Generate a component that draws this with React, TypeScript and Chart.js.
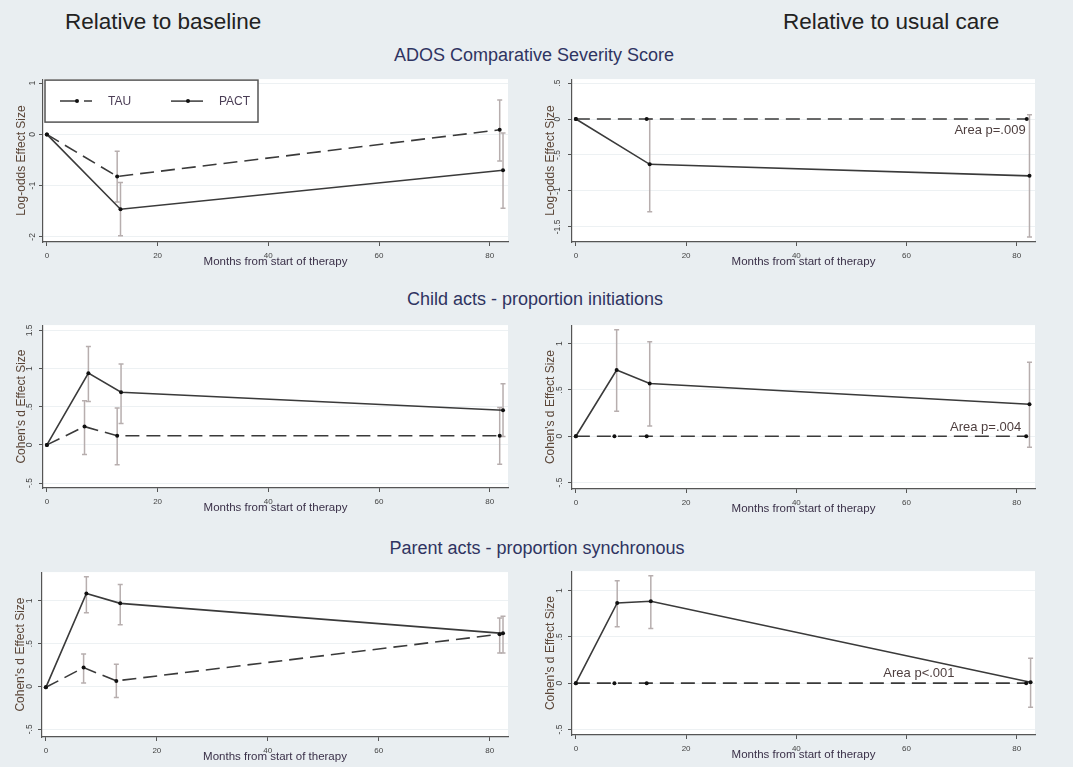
import React, { useEffect, useRef } from "react";
import { Chart, registerables } from "chart.js";
Chart.register(...registerables);

// ---------- data ----------
const xTicks = [0, 20, 40, 60, 80];
const xTitle = "Months from start of therapy";
const seriesNames = ["TAU", "PACT"];

// ADOS CSS – relative to baseline
const adosBaseTauX = [0, 12.7, 81.8];
const adosBaseTauY = [0, -0.82, 0.09];
const adosBaseTauLo = [null, -1.32, -0.52];
const adosBaseTauHi = [null, -0.33, 0.67];
const adosBasePactX = [0, 13.3, 82.4];
const adosBasePactY = [0, -1.46, -0.7];
const adosBasePactLo = [null, -1.98, -1.44];
const adosBasePactHi = [null, -0.94, 0.03];
const adosBaseYTicks = [-2, -1, 0, 1];

// ADOS CSS – relative to usual care
const adosCareTauX = [0, 12.85, 81.8];
const adosCareTauY = [0, 0, 0];
const adosCarePactX = [0, 13.4, 82.3];
const adosCarePactY = [0, -0.63, -0.79];
const adosCarePactLo = [null, -1.29, -1.64];
const adosCarePactHi = [null, 0, 0.06];
const adosCareYTicks = [-1.5, -1, -0.5, 0, 0.5];

// Child initiations – relative to baseline
const childBaseTauX = [0, 6.8, 12.7, 81.8];
const childBaseTauY = [0, 0.24, 0.12, 0.12];
const childBaseTauLo = [null, -0.125, -0.26, -0.255];
const childBaseTauHi = [null, 0.58, 0.485, 0.49];
const childBasePactX = [0, 7.5, 13.4, 82.4];
const childBasePactY = [0, 0.94, 0.69, 0.455];
const childBasePactLo = [null, 0.57, 0.28, 0.11];
const childBasePactHi = [null, 1.29, 1.06, 0.8];
const childBaseYTicks = [-0.5, 0, 0.5, 1, 1.5];

// Child initiations – relative to usual care
const childCareTauX = [0, 7.0, 12.85, 81.7];
const childCareTauY = [0, 0, 0, 0];
const childCarePactX = [0, 7.4, 13.4, 82.3];
const childCarePactY = [0, 0.715, 0.57, 0.346];
const childCarePactLo = [null, 0.27, 0.11, -0.12];
const childCarePactHi = [null, 1.15, 1.02, 0.8];
const childCareYTicks = [-0.5, 0, 0.5, 1];

// Parent synchrony – relative to baseline
const parentBaseTauX = [0, 6.8, 12.7, 81.8];
const parentBaseTauY = [-0.01, 0.22, 0.065, 0.61];
const parentBaseTauLo = [null, 0.04, -0.13, 0.39];
const parentBaseTauHi = [null, 0.38, 0.26, 0.8];
const parentBasePactX = [0, 7.3, 13.4, 82.4];
const parentBasePactY = [-0.01, 1.085, 0.97, 0.62];
const parentBasePactLo = [null, 0.86, 0.72, 0.39];
const parentBasePactHi = [null, 1.28, 1.19, 0.82];
const parentBaseYTicks = [-0.5, 0, 0.5, 1];

// Parent synchrony – relative to usual care
const parentCareTauX = [0, 7.0, 12.85, 81.7];
const parentCareTauY = [0, 0, 0, 0];
const parentCarePactX = [0, 7.5, 13.6, 82.5];
const parentCarePactY = [0, 0.866, 0.885, 0.01];
const parentCarePactLo = [null, 0.61, 0.59, -0.26];
const parentCarePactHi = [null, 1.105, 1.16, 0.27];
const parentCareYTicks = [-0.5, 0, 0.5, 1];

const columnTitles = ["Relative to baseline", "Relative to usual care"];
const rowTitles = [
  "ADOS Comparative Severity Score",
  "Child acts - proportion initiations",
  "Parent acts - proportion synchronous",
];
const notes = ["Area p=.009", "Area p=.004", "Area p<.001"];

// ---------- layout / styles ----------
const FONT = "'Liberation Sans', Arial, Helvetica, sans-serif";
const PAGE_BG = "#e9eef1";
const LINE = "#3a3a3a";
const AXIS = "#555555";
const ERR = "#b7aeae";

type Series = { x: number[]; y: number[]; lo?: (number | null)[]; hi?: (number | null)[]; dashed: boolean };
type PanelCfg = {
  rect: [number, number, number, number];
  yMin: number;
  yMax: number;
  yTicks: number[];
  yTitle: string;
  series: Series[];
  legend?: boolean;
  note?: { text: string; x: number; y: number };
};

const PANELS: PanelCfg[] = [
  {
    rect: [43, 77, 508, 242], yMin: -2.1, yMax: 1.08, yTicks: adosBaseYTicks, yTitle: "Log-odds Effect Size", legend: true,
    series: [
      { x: adosBaseTauX, y: adosBaseTauY, lo: adosBaseTauLo, hi: adosBaseTauHi, dashed: true },
      { x: adosBasePactX, y: adosBasePactY, lo: adosBasePactLo, hi: adosBasePactHi, dashed: false },
    ],
  },
  {
    rect: [572, 77, 1035, 242], yMin: -1.71, yMax: 0.555, yTicks: adosCareYTicks, yTitle: "Log-odds Effect Size",
    note: { text: notes[0], x: 81.6, y: -0.155 },
    series: [
      { x: adosCareTauX, y: adosCareTauY, dashed: true },
      { x: adosCarePactX, y: adosCarePactY, lo: adosCarePactLo, hi: adosCarePactHi, dashed: false },
    ],
  },
  {
    rect: [43, 323, 508, 488], yMin: -0.565, yMax: 1.57, yTicks: childBaseYTicks, yTitle: "Cohen's d Effect Size",
    series: [
      { x: childBaseTauX, y: childBaseTauY, lo: childBaseTauLo, hi: childBaseTauHi, dashed: true },
      { x: childBasePactX, y: childBasePactY, lo: childBasePactLo, hi: childBasePactHi, dashed: false },
    ],
  },
  {
    rect: [572, 323, 1035, 489], yMin: -0.57, yMax: 1.2, yTicks: childCareYTicks, yTitle: "Cohen's d Effect Size",
    note: { text: notes[1], x: 80.8, y: 0.09 },
    series: [
      { x: childCareTauX, y: childCareTauY, dashed: true },
      { x: childCarePactX, y: childCarePactY, lo: childCarePactLo, hi: childCarePactHi, dashed: false },
    ],
  },
  {
    rect: [42, 570, 508, 737], yMin: -0.59, yMax: 1.335, yTicks: parentBaseYTicks, yTitle: "Cohen's d Effect Size",
    series: [
      { x: parentBaseTauX, y: parentBaseTauY, lo: parentBaseTauLo, hi: parentBaseTauHi, dashed: true },
      { x: parentBasePactX, y: parentBasePactY, lo: parentBasePactLo, hi: parentBasePactHi, dashed: false },
    ],
  },
  {
    rect: [572, 569, 1035, 735], yMin: -0.56, yMax: 1.21, yTicks: parentCareYTicks, yTitle: "Cohen's d Effect Size",
    note: { text: notes[2], x: 68.7, y: 0.1 },
    series: [
      { x: parentCareTauX, y: parentCareTauY, dashed: true },
      { x: parentCarePactX, y: parentCarePactY, lo: parentCarePactLo, hi: parentCarePactHi, dashed: false },
    ],
  },
];

const Y_AXIS_W = 42;
const X_AXIS_H = 28;
const PAD_T = 6;
const PAD_R = 6;

function fmt(v: number): string {
  if (v === 0) return "0";
  return String(v).replace(/^(-?)0\./, "$1.");
}

function Panel({ cfg }: { cfg: PanelCfg }) {
  const ref = useRef<HTMLCanvasElement | null>(null);
  const [l, t, r, b] = cfg.rect;
  const left = l - Y_AXIS_W;
  const top = t - PAD_T;
  const W = r - l + Y_AXIS_W + PAD_R;
  const H = b - t + PAD_T + X_AXIS_H;

  useEffect(() => {
    if (!ref.current) return;
    const datasets = cfg.series.map((s, si) => ({
      label: seriesNames[si],
      data: s.x.map((xv, i) => ({ x: xv, y: s.y[i] })),
      borderColor: LINE,
      borderWidth: 1.6,
      borderDash: s.dashed ? [14, 7] : [],
      pointRadius: 2,
      pointBackgroundColor: "#111",
      pointBorderWidth: 0,
      tension: 0,
      fill: false,
    }));

    const bgPlugin = {
      id: "plotBg",
      beforeDraw(chart: any) {
        const { ctx, chartArea: a } = chart;
        ctx.save();
        ctx.fillStyle = "#ffffff";
        ctx.fillRect(a.left, a.top, a.right - a.left, a.bottom - a.top);
        ctx.restore();
      },
    };

    const errPlugin = {
      id: "errBars",
      beforeDatasetsDraw(chart: any) {
        const { ctx } = chart;
        const xs = chart.scales.x;
        const ys = chart.scales.y;
        ctx.save();
        ctx.strokeStyle = ERR;
        ctx.lineWidth = 1.5;
        cfg.series.forEach((s) => {
          if (!s.lo || !s.hi) return;
          s.x.forEach((xv, i) => {
            const lo = s.lo![i];
            const hi = s.hi![i];
            if (lo == null || hi == null) return;
            const px = xs.getPixelForValue(xv);
            const p1 = ys.getPixelForValue(lo);
            const p2 = ys.getPixelForValue(hi);
            ctx.beginPath();
            ctx.moveTo(px, p1);
            ctx.lineTo(px, p2);
            ctx.moveTo(px - 2.5, p1);
            ctx.lineTo(px + 2.5, p1);
            ctx.moveTo(px - 2.5, p2);
            ctx.lineTo(px + 2.5, p2);
            ctx.stroke();
          });
        });
        ctx.restore();
      },
    };

    const notePlugin = {
      id: "note",
      afterDatasetsDraw(chart: any) {
        const { ctx } = chart;
        if (cfg.note) {
          ctx.save();
          ctx.font = `13px ${FONT}`;
          ctx.fillStyle = "#4e3f3f";
          ctx.textAlign = "right";
          ctx.textBaseline = "middle";
          ctx.fillText(
            cfg.note.text,
            chart.scales.x.getPixelForValue(cfg.note.x),
            chart.scales.y.getPixelForValue(cfg.note.y)
          );
          ctx.restore();
        }
        if (cfg.legend) {
          const a = chart.chartArea;
          const bx = a.left + 2;
          const by = a.top + 1;
          const bw = 213;
          const bh = 42;
          ctx.save();
          ctx.fillStyle = "#ffffff";
          ctx.fillRect(bx, by, bw, bh);
          ctx.strokeStyle = AXIS;
          ctx.lineWidth = 1.5;
          ctx.strokeRect(bx, by, bw, bh);
          const my = by + 21;
          const items = [
            { x0: bx + 15, dashed: true, text: chart.data.datasets[0].label },
            { x0: bx + 126, dashed: false, text: chart.data.datasets[1].label },
          ];
          items.forEach((it) => {
            ctx.strokeStyle = LINE;
            ctx.lineWidth = 1.5;
            ctx.setLineDash(it.dashed ? [18, 6] : []);
            ctx.beginPath();
            ctx.moveTo(it.x0, my);
            ctx.lineTo(it.x0 + 32, my);
            ctx.stroke();
            ctx.setLineDash([]);
            ctx.fillStyle = "#111";
            ctx.beginPath();
            ctx.arc(it.x0 + 17, my, 2, 0, Math.PI * 2);
            ctx.fill();
            ctx.font = `12px ${FONT}`;
            ctx.fillStyle = "#4a3d55";
            ctx.textAlign = "left";
            ctx.textBaseline = "middle";
            ctx.fillText(it.text, it.x0 + 48, my + 1);
          });
          ctx.restore();
        }
      },
    };

    const chart = new Chart(ref.current, {
      type: "line",
      data: { datasets } as any,
      options: {
        animation: false,
        responsive: false,
        maintainAspectRatio: false,
        layout: { padding: { left: 0, top: PAD_T, right: PAD_R, bottom: 0 } },
        plugins: { legend: { display: false }, tooltip: { enabled: false } },
        scales: {
          x: {
            type: "linear",
            min: -0.7,
            max: 83.3,
            afterBuildTicks: (s: any) => {
              s.ticks = xTicks.map((v) => ({ value: v }));
            },
            afterFit: (s: any) => {
              s.height = X_AXIS_H;
            },
            ticks: {
              callback: (v: any) => fmt(Number(v)),
              font: { size: 8, family: FONT },
              color: "#444",
              padding: 5,
              maxRotation: 0,
              minRotation: 0,
            },
            grid: { drawOnChartArea: false, tickLength: 4, tickColor: AXIS },
            border: { display: true, color: AXIS, width: 1.2 },
            title: {
              display: true,
              text: xTitle,
              font: { size: 11.5, family: FONT },
              color: "#3a3048",
              padding: { top: 0, bottom: 1 },
            },
          },
          y: {
            type: "linear",
            min: cfg.yMin,
            max: cfg.yMax,
            afterBuildTicks: (s: any) => {
              s.ticks = cfg.yTicks.map((v) => ({ value: v }));
            },
            afterFit: (s: any) => {
              s.width = Y_AXIS_W;
            },
            ticks: {
              callback: (v: any) => fmt(Number(v)),
              font: { size: 8.5, family: FONT },
              color: "#444",
              padding: 3,
              minRotation: 90,
              maxRotation: 90,
              crossAlign: "center",
            },
            grid: { color: "#edf1f3", lineWidth: 1, tickLength: 4, tickColor: AXIS },
            border: { display: true, color: AXIS, width: 1.2 },
            title: {
              display: true,
              text: cfg.yTitle,
              font: { size: 12, family: FONT },
              color: "#5a4537",
              padding: { top: 13, bottom: 0 },
            },
          },
        },
      } as any,
      plugins: [bgPlugin, errPlugin, notePlugin],
    });
    return () => chart.destroy();
  }, []);

  return (
    <div style={{ position: "absolute", left, top, width: W, height: H }}>
      <canvas ref={ref} width={W} height={H} style={{ width: W, height: H, display: "block" }} />
    </div>
  );
}

function Label({ text, cx, cy, size, color, align }: { text: string; cx: number; cy: number; size: number; color: string; align?: "left" | "center" }) {
  const w = 600;
  const left = align === "left" ? cx : cx - w / 2;
  return (
    <div
      style={{
        position: "absolute",
        left,
        top: cy - size * 0.6,
        width: w,
        height: size * 1.2,
        lineHeight: `${size * 1.2}px`,
        fontSize: size,
        fontFamily: FONT,
        color,
        textAlign: align === "left" ? "left" : "center",
        whiteSpace: "nowrap",
      }}
    >
      {text}
    </div>
  );
}

export default function App() {
  return (
    <div
      style={{
        position: "absolute",
        left: 0,
        top: 0,
        width: 1073,
        height: 767,
        background: PAGE_BG,
        overflow: "hidden",
      }}
    >
      <Label text={columnTitles[0]} cx={65} cy={21} size={22.5} color="#222" align="left" />
      <Label text={columnTitles[1]} cx={783} cy={21} size={22.5} color="#222" align="left" />
      <Label text={rowTitles[0]} cx={534} cy={56} size={18} color="#2f3461" />
      <Label text={rowTitles[1]} cx={535} cy={300} size={18} color="#2f3461" />
      <Label text={rowTitles[2]} cx={537} cy={549} size={18} color="#2f3461" />
      {PANELS.map((p, i) => (
        <Panel key={i} cfg={p} />
      ))}
    </div>
  );
}
